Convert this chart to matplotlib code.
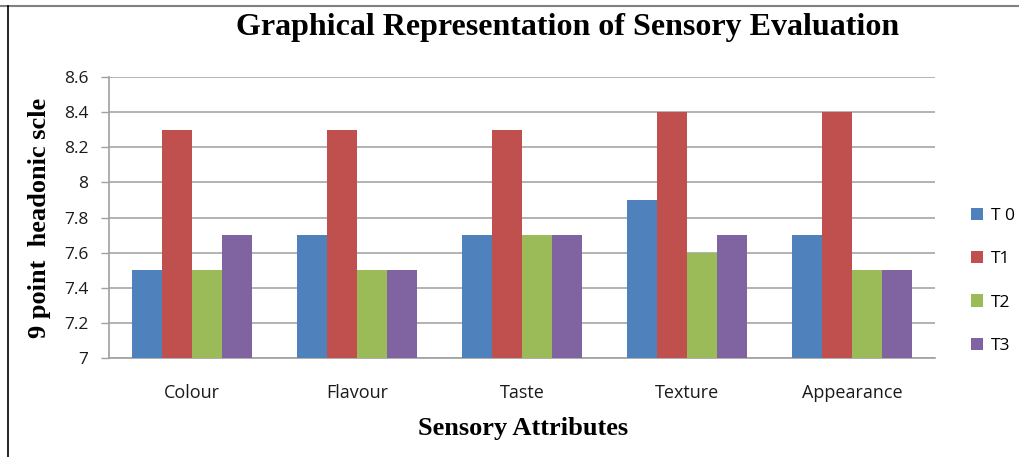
import numpy as np
import matplotlib
matplotlib.use('Agg')
import matplotlib.pyplot as plt
from matplotlib.lines import Line2D
from matplotlib.patches import Patch

# Data
attributes = ['Colour', 'Flavour', 'Taste', 'Texture', 'Appearance']
series_names = ['T 0', 'T1', 'T2', 'T3']
t0 = [7.5, 7.7, 7.7, 7.9, 7.7]
t1 = [8.3, 8.3, 8.3, 8.4, 8.4]
t2 = [7.5, 7.5, 7.7, 7.6, 7.5]
t3 = [7.7, 7.5, 7.7, 7.7, 7.5]
y_ticks = [7, 7.2, 7.4, 7.6, 7.8, 8, 8.2, 8.4, 8.6]
y_tick_labels = ['7', '7.2', '7.4', '7.6', '7.8', '8', '8.2', '8.4', '8.6']

colors = ['#4F81BD', '#C0504D', '#9BBB59', '#8064A2']
W, H = 1019, 457

fig = plt.figure(figsize=(W / 100, H / 100), dpi=100)
fig.patch.set_facecolor('white')
ax = fig.add_axes([109 / W, 1 - 358 / H, (935 - 109) / W, (358 - 77) / H])

x = np.arange(len(attributes))
bw = 1 / 5.5
for i, (vals, c) in enumerate(zip([t0, t1, t2, t3], colors)):
    ax.bar(x + (i - 1.5) * bw, np.array(vals) - 7, bw, bottom=7, color=c,
           edgecolor='none', zorder=3)

ax.set_xlim(-0.5, len(attributes) - 0.5)
ax.set_ylim(7, 8.6)
ax.set_yticks(y_ticks)
ax.set_yticklabels(y_tick_labels, fontfamily='Open Sans', fontsize=12.5, color='#1a1a1a')
ax.set_xticks(x)
ax.set_xticklabels(attributes, fontfamily='Open Sans', fontsize=13, color='#1a1a1a')
ax.tick_params(axis='y', length=6, width=1, color='#A0A0A0', pad=9)
ax.tick_params(axis='x', length=0, pad=19)
ax.yaxis.grid(True, color='#A6A6A6', linewidth=1.2, zorder=0)
ax.set_axisbelow(True)
for s in ['top', 'right']:
    ax.spines[s].set_visible(False)
for s in ['left', 'bottom']:
    ax.spines[s].set_color('#A0A0A0')
    ax.spines[s].set_linewidth(1.2)

serif = 'Liberation Serif'
fig.text(568 / W, 1 - 28 / H, 'Graphical Representation of Sensory Evaluation',
         ha='center', va='center', fontfamily=serif, fontweight='bold', fontsize=23)
fig.text(523 / W, 1 - 428 / H, 'Sensory Attributes', ha='center', va='center',
         fontfamily=serif, fontweight='bold', fontsize=19)
fig.text(40 / W, 1 - 218 / H, '9 point  headonic scle', ha='center', va='center',
         rotation=90, fontfamily=serif, fontweight='bold', fontsize=19)

handles = [Patch(facecolor=c, edgecolor='none') for c in colors]
leg = fig.legend(handles, series_names, loc='upper left',
                 bbox_to_anchor=(955 / W, 1 - 192 / H), frameon=False,
                 handlelength=0.7, handleheight=0.7, handletextpad=0.45,
                 labelspacing=1.57, prop={'family': 'Open Sans', 'size': 12.5})

# border lines of the original screenshot
fig.add_artist(Line2D([0, 1], [1 - 6 / H, 1 - 6 / H], color='#808080', linewidth=1.5,
                      transform=fig.transFigure))
fig.add_artist(Line2D([8 / W, 8 / W], [0, 1 - 6 / H], color='black', linewidth=1.2,
                      transform=fig.transFigure))

fig.savefig('out.png', dpi=100)
